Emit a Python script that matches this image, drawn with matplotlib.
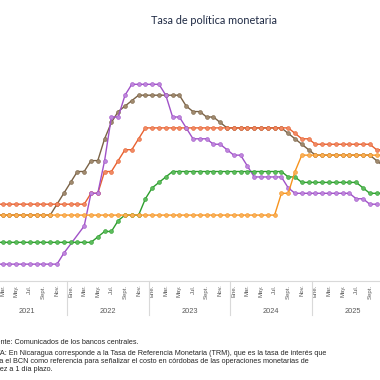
import numpy as np
import matplotlib
matplotlib.use("Agg")
import matplotlib.pyplot as plt
import matplotlib.transforms as mtransforms

# Monthly index: 0 = Jan 2021 ... 58 = Nov 2025
years = ["2021", "2022", "2023", "2024", "2025"]
month_labels = ["Ene.", "Mar.", "May.", "Jul.", "Sept.", "Nov."]

# Costa Rica (purple)
costa_rica = ([0.75] * 11 + [1.25, None, None, 2.5, 4.0, 4.0, 5.5, 7.5, 7.5, 8.5]
              + [9.0] * 5 + [8.5, 7.5, 7.5, 7.0, 6.5, 6.5, 6.5, 6.25, 6.25, 6.0,
                             5.75, 5.75, 5.25] + [4.75] * 5 + [4.25] + [4.0] * 9
              + [3.75, 3.75, 3.5, 3.5, None])
# Nicaragua TRM (red)
nicaragua = ([3.5] * 15 + [4.0, 4.0, 5.0, 5.0, 5.5, 6.0, 6.0, 6.5] + [7.0] * 22
             + [6.75, 6.5, 6.5] + [6.25] * 9 + [6.0, 6.0])
# Republica Dominicana (brown)
rep_dom = ([3.0] * 10 + [3.5, 4.0, 4.5, 5.0, 5.0, 5.5, 5.5, 6.5, 7.25, 7.75, 8.0, 8.25]
           + [8.5] * 7 + [8.0, 7.75, 7.75, 7.5, 7.5, 7.25] + [7.0] * 9
           + [6.75, 6.5, 6.25, 6.0] + [5.75] * 9 + [5.5, 5.25])
# Honduras (orange)
honduras = [3.0] * 43 + [4.0, 4.0, 5.0] + [5.75] * 13
# Guatemala (green)
guatemala = ([1.75] * 16 + [2.0, 2.25, 2.25, 2.75, 3.0, 3.0, 3.0, 3.75, 4.25, 4.5, 4.75]
             + [5.0] * 17 + [4.75, 4.75] + [4.5] * 9 + [4.25, 4.0, 4.0, 4.0])

series = [
    (rep_dom, "#7A6246", "#A08A6E"),
    (nicaragua, "#E8602F", "#F08A64"),
    (costa_rica, "#A052C8", "#BF86DC"),
    (guatemala, "#2E9E2E", "#5CBC5C"),
    (honduras, "#F7931E", "#F9B15A"),
]

fig = plt.figure(figsize=(3.8, 3.8), dpi=100)
W = H = 380.0

# axes placed in pixels; chart is cropped on the left like the original
x0_px, step_px = -11.0, 6.8
left_px = x0_px - 0.5 * step_px
right_px = x0_px + 59.5 * step_px
y_bottom_px, y_top_px = 280.5, 280.5 - 21.8 * 10
ax = fig.add_axes([left_px / W, 1 - y_bottom_px / H,
                   (right_px - left_px) / W, (y_bottom_px - y_top_px) / H])

for z, (vals, col, face) in enumerate(series):
    v = np.array([np.nan if a is None else a for a in vals], dtype=float)
    idx = np.arange(len(v))
    m = np.isfinite(v)
    ax.plot(idx[m], v[m], color=col, lw=1.0, marker="o", ms=2.8,
            mfc=face, mec=col, mew=0.4, zorder=2 + z, clip_on=False)

ax.set_xlim(-0.5, 59.5)
ax.set_ylim(0, 10)
for s in ["top", "left", "right"]:
    ax.spines[s].set_visible(False)
ax.spines["bottom"].set_color("#D9D9D9")
ax.spines["bottom"].set_linewidth(0.8)
ax.set_yticks([])

ticks = list(range(0, 60, 2))
ax.set_xticks(ticks)
ax.set_xticklabels([month_labels[(t % 12) // 2] for t in ticks], rotation=90,
                   fontsize=4.3, color="#595959", family="Liberation Sans")
ax.tick_params(axis="x", length=0, pad=3)
for lab in ax.get_xticklabels():
    lab.set_verticalalignment("top")

trans = mtransforms.blended_transform_factory(ax.transData, ax.transAxes)
for k, yr in enumerate(years):
    ax.text(12 * k + 5.5, -0.141, yr, transform=trans, ha="center", va="center",
            fontsize=5.3, color="#595959", family="Liberation Sans")
for k in range(6):
    ax.plot([12 * k - 0.5] * 2, [0, -0.158], transform=trans, color="#D9D9D9",
            lw=0.8, clip_on=False)

fig.text(214 / W, 1 - 20 / H, "Tasa de política monetaria", ha="center", va="center",
         fontsize=7.8, color="#1F2A44", family="Lato")

foot = dict(fontsize=5.2, color="#262626", family="Liberation Sans", va="center", ha="left")
fig.text(-12.4 / W, 1 - 342.7 / H, "Fuente: Comunicados de los bancos centrales.", **foot)
fig.text(-15.2 / W, 1 - 353.3 / H,
         "NOTA: En Nicaragua corresponde a la Tasa de Referencia Monetaria (TRM), que es la tasa de interés que",
         **foot)
fig.text(-15.2 / W, 1 - 361.5 / H,
         "utiliza el BCN como referencia para señalizar el costo en córdobas de las operaciones monetarias de",
         **foot)
fig.text(-16.9 / W, 1 - 369.3 / H, "liquidez a 1 día plazo.", **foot)

fig.savefig("out.png", dpi=100)
